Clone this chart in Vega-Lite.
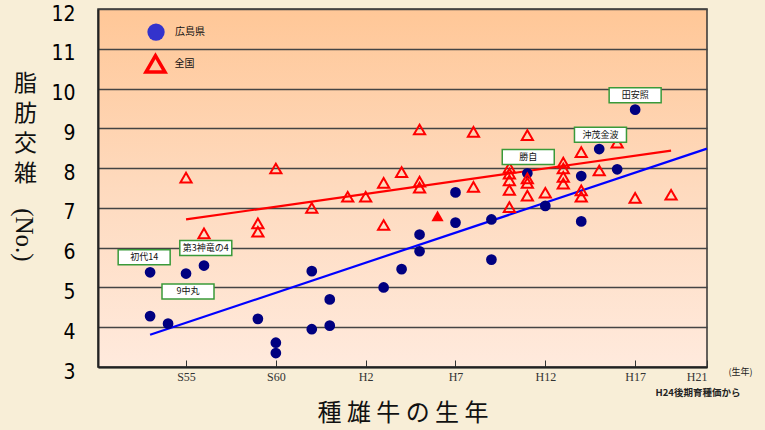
{
  "$schema": "https://vega.github.io/schema/vega-lite/v6.json",
  "width": 609,
  "height": 358,
  "autosize": {"type": "none"},
  "padding": {"left": 98, "top": 9, "right": 58, "bottom": 63},
  "background": "#F8EED7",
  "view": {
    "stroke": "#333333",
    "strokeWidth": 1.5,
    "fill": {"gradient": "linear", "x1": 0, "y1": 0, "x2": 0, "y2": 1, "stops": [{"offset": 0, "color": "#FFC797"}, {"offset": 0.5, "color": "#FEDABE"}, {"offset": 1, "color": "#FFEADD"}]}
  },
  "datasets": {
    "pts": [
      {"g": "広島県", "yr": 1978, "v": 5.38}, {"g": "広島県", "yr": 1980, "v": 5.35}, {"g": "広島県", "yr": 1981, "v": 5.55},
      {"g": "広島県", "yr": 1978, "v": 4.28}, {"g": "広島県", "yr": 1979, "v": 4.09}, {"g": "広島県", "yr": 1984, "v": 4.21},
      {"g": "広島県", "yr": 1985, "v": 3.61}, {"g": "広島県", "yr": 1985, "v": 3.35}, {"g": "広島県", "yr": 1987, "v": 5.41},
      {"g": "広島県", "yr": 1987, "v": 3.95}, {"g": "広島県", "yr": 1988, "v": 4.70}, {"g": "広島県", "yr": 1988, "v": 4.04},
      {"g": "広島県", "yr": 1991, "v": 5.00}, {"g": "広島県", "yr": 1992, "v": 5.46}, {"g": "広島県", "yr": 1993, "v": 6.33},
      {"g": "広島県", "yr": 1993, "v": 5.91}, {"g": "広島県", "yr": 1995, "v": 7.39}, {"g": "広島県", "yr": 1995, "v": 6.63},
      {"g": "広島県", "yr": 1997, "v": 6.71}, {"g": "広島県", "yr": 1997, "v": 5.70}, {"g": "広島県", "yr": 1999, "v": 7.87},
      {"g": "広島県", "yr": 2000, "v": 7.05}, {"g": "広島県", "yr": 2002, "v": 7.80}, {"g": "広島県", "yr": 2002, "v": 6.66},
      {"g": "広島県", "yr": 2003, "v": 8.48}, {"g": "広島県", "yr": 2004, "v": 7.97}, {"g": "広島県", "yr": 2005, "v": 9.47},
      {"g": "全国", "yr": 1980, "v": 7.76}, {"g": "全国", "yr": 1985, "v": 7.99}, {"g": "全国", "yr": 1993, "v": 8.97},
      {"g": "全国", "yr": 1992, "v": 7.90}, {"g": "全国", "yr": 1991, "v": 7.63}, {"g": "全国", "yr": 1993, "v": 7.66},
      {"g": "全国", "yr": 1993, "v": 7.51}, {"g": "全国", "yr": 1989, "v": 7.28}, {"g": "全国", "yr": 1990, "v": 7.28},
      {"g": "全国", "yr": 1987, "v": 7.00}, {"g": "全国", "yr": 1981, "v": 6.36}, {"g": "全国", "yr": 1984, "v": 6.61},
      {"g": "全国", "yr": 1984, "v": 6.40}, {"g": "全国", "yr": 1991, "v": 6.57}, {"g": "全国", "yr": 1996, "v": 8.91},
      {"g": "全国", "yr": 1996, "v": 7.53}, {"g": "全国", "yr": 1999, "v": 8.83}, {"g": "全国", "yr": 2002, "v": 8.40},
      {"g": "全国", "yr": 2004, "v": 8.64}, {"g": "全国", "yr": 1998, "v": 8.01}, {"g": "全国", "yr": 1998, "v": 7.86},
      {"g": "全国", "yr": 1998, "v": 7.69}, {"g": "全国", "yr": 1998, "v": 7.45}, {"g": "全国", "yr": 1998, "v": 7.02},
      {"g": "全国", "yr": 1999, "v": 7.74}, {"g": "全国", "yr": 1999, "v": 7.63}, {"g": "全国", "yr": 1999, "v": 7.31},
      {"g": "全国", "yr": 2000, "v": 7.38}, {"g": "全国", "yr": 2001, "v": 8.14}, {"g": "全国", "yr": 2001, "v": 7.99},
      {"g": "全国", "yr": 2001, "v": 7.78}, {"g": "全国", "yr": 2001, "v": 7.61}, {"g": "全国", "yr": 2003, "v": 7.94},
      {"g": "全国", "yr": 2002, "v": 7.44}, {"g": "全国", "yr": 2002, "v": 7.28}, {"g": "全国", "yr": 2005, "v": 7.25},
      {"g": "全国", "yr": 2007, "v": 7.33},
      {"g": "全国(塗)", "yr": 1994, "v": 6.80}
    ],
    "trend": [
      {"g": "広島県", "yr": 1978, "v": 3.81}, {"g": "広島県", "yr": 2009, "v": 8.49},
      {"g": "全国", "yr": 1980, "v": 6.71}, {"g": "全国", "yr": 2007, "v": 8.44}
    ],
    "labels": [
      {"name": "初代14", "yr": 1977.67, "v": 5.76},
      {"name": "第3神竜の4", "yr": 1981.1, "v": 5.99},
      {"name": "9中丸", "yr": 1980.11, "v": 4.90},
      {"name": "勝自", "yr": 1999.05, "v": 8.28},
      {"name": "沖茂金波", "yr": 2003.07, "v": 8.84},
      {"name": "田安照", "yr": 2005.0, "v": 9.83}
    ],
    "legend": [
      {"g": "広島県", "yr": 1978.33, "v": 11.42},
      {"g": "全国", "yr": 1978.3, "v": 10.62}
    ],
    "notes": [
      {"t": "(生年)", "yr": 2010.2, "v": 2.87, "k": "a"},
      {"t": "H24後期育種価から", "yr": 2008.5, "v": 2.35, "k": "b"},
      {"t": "(No.)", "yr": 1971.0, "v": 6.32, "k": "c"}
    ]
  },
  "encoding": {
    "x": {
      "field": "yr", "type": "quantitative",
      "scale": {"domain": [1975.1, 2009], "nice": false, "zero": false},
      "axis": {
        "values": [1980, 1985, 1990, 1995, 2000, 2005, 2009],
        "labelExpr": "datum.value < 1989 ? 'S' + (datum.value - 1925) : 'H' + (datum.value - 1988)",
        "grid": false, "domainColor": "#222222", "domainWidth": 2,
        "tickSize": -7, "tickColor": "#333333", "tickWidth": 1,
        "labelFont": "Liberation Serif", "labelFontSize": 12, "labelColor": "#333333", "labelPadding": 11,
        "title": "種 雄 牛 の 生 年", "titleFont": "Noto Sans CJK JP", "titleFontSize": 24, "titleFontWeight": "normal",
        "titleColor": "#111111", "titlePadding": 19
      }
    },
    "y": {
      "field": "v", "type": "quantitative",
      "scale": {"domain": [3, 12], "nice": false, "zero": false},
      "axis": {
        "values": [3, 4, 5, 6, 7, 8, 9, 10, 11, 12],
        "grid": true, "gridColor": "#444444", "gridWidth": 1.3, "gridOpacity": 1,
        "ticks": false, "domainColor": "#222222", "domainWidth": 2,
        "labelFont": "Liberation Sans Narrow, DejaVu Sans Condensed, Liberation Sans", "labelFontSize": 21,
        "labelColor": "#000000", "labelPadding": 23, "labelOffset": 5,
        "title": ["脂", "肪", "交", "雑"], "titleAngle": 0, "titleAlign": "center", "titleBaseline": "top",
        "titleX": -73, "titleY": 63, "titleFont": "Noto Sans CJK JP", "titleFontSize": 23,
        "titleFontWeight": "normal", "titleLineHeight": 30, "titleColor": "#111111"
      }
    }
  },
  "layer": [
    {
      "data": {"name": "trend"},
      "mark": {"type": "line", "strokeWidth": 2.2},
      "encoding": {
        "detail": {"field": "g"},
        "color": {"field": "g", "type": "nominal", "scale": {"domain": ["広島県", "全国"], "range": ["#0000FF", "#FF0000"]}, "legend": null}
      }
    },
    {
      "data": {"name": "pts"},
      "transform": [{"filter": "datum.g === '広島県'"}],
      "mark": {"type": "point", "shape": "circle", "filled": true, "color": "#000080", "size": 115, "opacity": 1}
    },
    {
      "data": {"name": "pts"},
      "transform": [{"filter": "datum.g === '全国'"}],
      "mark": {"type": "point", "shape": "triangle-up", "filled": false, "color": "#FF0000", "strokeWidth": 2, "size": 125, "opacity": 1}
    },
    {
      "data": {"name": "pts"},
      "transform": [{"filter": "datum.g === '全国(塗)'"}],
      "mark": {"type": "point", "shape": "triangle-up", "filled": true, "color": "#FF0000", "size": 150, "opacity": 1}
    },
    {
      "data": {"name": "legend"},
      "transform": [{"filter": "datum.g === '広島県'"}],
      "mark": {"type": "point", "shape": "circle", "filled": true, "color": "#3333CC", "size": 300, "opacity": 1}
    },
    {
      "data": {"name": "legend"},
      "transform": [{"filter": "datum.g === '全国'"}],
      "mark": {"type": "point", "shape": "triangle-up", "filled": false, "color": "#FF0000", "strokeWidth": 3.5, "size": 360, "opacity": 1}
    },
    {
      "data": {"name": "legend"},
      "mark": {"type": "text", "font": "Noto Sans CJK JP", "fontSize": 10, "color": "#111111", "align": "left", "baseline": "middle", "dx": 19},
      "encoding": {"text": {"field": "g"}}
    },
    {
      "data": {"name": "labels"},
      "mark": {"type": "point", "shape": "M-1,-0.29L1,-0.29L1,0.29L-1,0.29Z", "size": 2704, "filled": true, "fill": "#FFFFFF", "stroke": "#3A9A3A", "strokeWidth": 1.5, "opacity": 1}
    },
    {
      "data": {"name": "labels"},
      "mark": {"type": "text", "font": "Noto Sans CJK JP", "fontSize": 9, "color": "#111111", "align": "center", "baseline": "middle"},
      "encoding": {"text": {"field": "name"}}
    },
    {
      "data": {"name": "notes"},
      "transform": [{"filter": "datum.k === 'a'"}],
      "mark": {"type": "text", "font": "Noto Sans CJK JP", "fontSize": 9, "color": "#222222", "align": "left", "baseline": "middle"},
      "encoding": {"text": {"field": "t"}}
    },
    {
      "data": {"name": "notes"},
      "transform": [{"filter": "datum.k === 'b'"}],
      "mark": {"type": "text", "font": "Noto Sans CJK JP", "fontSize": 9.5, "fontWeight": "bold", "color": "#222222", "align": "center", "baseline": "middle"},
      "encoding": {"text": {"field": "t"}}
    },
    {
      "data": {"name": "notes"},
      "transform": [{"filter": "datum.k === 'c'"}],
      "mark": {"type": "text", "font": "Liberation Serif", "fontSize": 25, "color": "#111111", "align": "center", "baseline": "middle", "angle": 90},
      "encoding": {"text": {"field": "t"}}
    }
  ]
}
